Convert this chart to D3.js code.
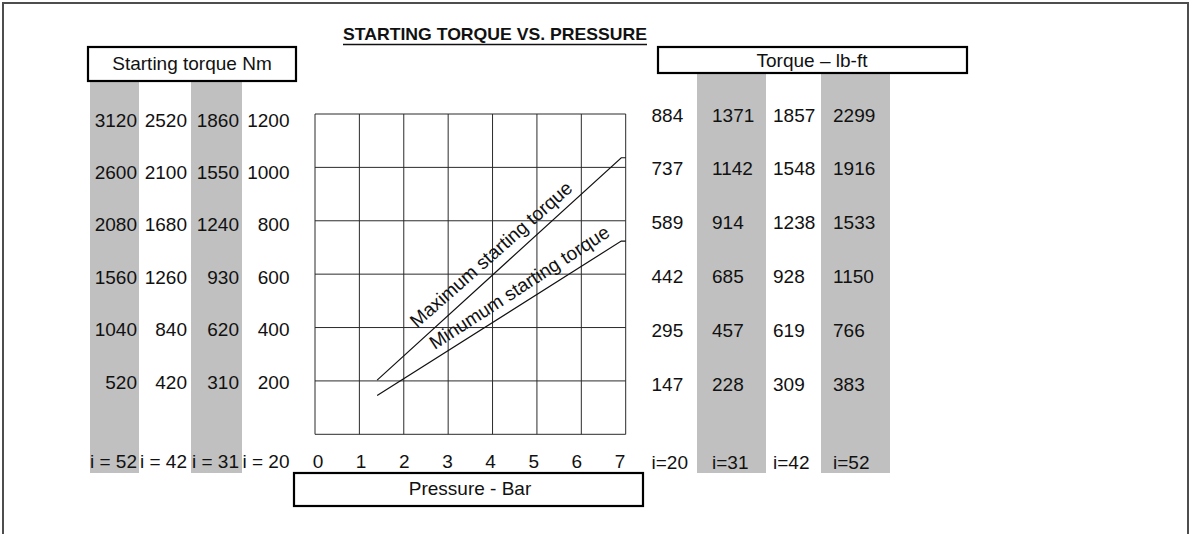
<!DOCTYPE html>
<html>
<head>
<meta charset="utf-8">
<script src="https://cdn.jsdelivr.net/npm/d3@7"></script>
<style>
  html, body { margin: 0; padding: 0; background: #fff; }
  svg { display: block; }
  text { font-family: "Liberation Sans", Arial, sans-serif; fill: #111; }
</style>
</head>
<body>
<svg id="chart" width="1192" height="534"></svg>
<script>
// Pressure axis (bar) and torque gridlines (Nm, i = 20 scale)
const pressureTicks = [0, 1, 2, 3, 4, 5, 6, 7];
const torqueTicks = [0, 200, 400, 600, 800, 1000, 1200];

// Starting torque curves: pressure (bar) vs torque (Nm, i = 20)
const maxPressure = [1.4, 6.9, 7.0];
const maxTorque   = [203, 1036, 1036];
const minPressure = [1.4, 6.9, 7.0];
const minTorque   = [145, 724, 724];

// Left table: starting torque in Nm for each ratio
const nmHeaders = ["i = 52", "i = 42", "i = 31", "i = 20"];
const nmI52 = [3120, 2600, 2080, 1560, 1040, 520];
const nmI42 = [2520, 2100, 1680, 1260, 840, 420];
const nmI31 = [1860, 1550, 1240, 930, 620, 310];
const nmI20 = [1200, 1000, 800, 600, 400, 200];

// Right table: torque in lb-ft for each ratio
const lbHeaders = ["i=20", "i=31", "i=42", "i=52"];
const lbI20 = [884, 737, 589, 442, 295, 147];
const lbI31 = [1371, 1142, 914, 685, 457, 228];
const lbI42 = [1857, 1548, 1238, 928, 619, 309];
const lbI52 = [2299, 1916, 1533, 1150, 766, 383];

const svg = d3.select("#chart");
const FS = 19;

const x = d3.scaleLinear().domain([0, 7]).range([315, 625.7]);
const y = d3.scaleLinear().domain([0, 1200]).range([434.3, 114]);
const xLabel = d3.scaleLinear().domain([0, 7]).range([318, 620]);
const rowIdx = d3.range(nmI20.length);
const leftRow = d3.scalePoint().domain(rowIdx).range([120, 382]);
const rightRow = d3.scalePoint().domain(rowIdx).range([115, 384]);

// Outer frame (open at the bottom)
svg.append("path")
  .attr("d", "M3,534 V3 H1188 V534")
  .attr("fill", "none").attr("stroke", "#4d4d4d").attr("stroke-width", 2);

// Grey column bands
const bands = [
  { x0: 90, x1: 139, y0: 81, y1: 473 },
  { x0: 191, x1: 242, y0: 81, y1: 473 },
  { x0: 697, x1: 766, y0: 73, y1: 473 },
  { x0: 821, x1: 890, y0: 73, y1: 473 }
];
svg.append("g").selectAll("rect").data(bands).join("rect")
  .attr("x", d => d.x0).attr("y", d => d.y0)
  .attr("width", d => d.x1 - d.x0).attr("height", d => d.y1 - d.y0)
  .attr("fill", "#c0c0c0");

// Title
svg.append("text")
  .attr("x", 343).attr("y", 40)
  .attr("font-size", 17).attr("font-weight", "bold")
  .attr("textLength", 304).attr("lengthAdjust", "spacingAndGlyphs")
  .text("STARTING TORQUE VS. PRESSURE");
svg.append("line")
  .attr("x1", 343).attr("x2", 647).attr("y1", 44.5).attr("y2", 44.5)
  .attr("stroke", "#111").attr("stroke-width", 1.6);

// Header boxes
function box(x0, y0, x1, y1, label, cx, baseline) {
  svg.append("rect")
    .attr("x", x0).attr("y", y0).attr("width", x1 - x0).attr("height", y1 - y0)
    .attr("fill", "#fff").attr("stroke", "#000").attr("stroke-width", 2.2);
  svg.append("text")
    .attr("x", cx).attr("y", baseline)
    .attr("text-anchor", "middle").attr("font-size", FS)
    .text(label);
}
box(88, 47, 296, 81, "Starting torque Nm", 192, 69.5);
box(658, 47, 967, 73, "Torque \u2013 lb-ft", 812, 67);
box(294, 473, 643, 506, "Pressure - Bar", 470, 495);

// Grid
const grid = svg.append("g").attr("stroke", "#2b2b2b").attr("stroke-width", 1);
grid.selectAll("line.v").data(pressureTicks).join("line").attr("class", "v")
  .attr("x1", d => x(d)).attr("x2", d => x(d))
  .attr("y1", y(1200)).attr("y2", y(0));
grid.selectAll("line.h").data(torqueTicks).join("line").attr("class", "h")
  .attr("x1", x(0)).attr("x2", x(7))
  .attr("y1", d => y(d)).attr("y2", d => y(d));

// Pressure tick labels
svg.append("g").selectAll("text").data(pressureTicks).join("text")
  .attr("x", d => xLabel(d)).attr("y", 461.7).attr("dy", "0.35em")
  .attr("text-anchor", "middle").attr("font-size", FS)
  .text(d => d);

// Torque curves
const line = d3.line().x(d => x(d[0])).y(d => y(d[1]));
const curves = [
  d3.zip(maxPressure, maxTorque),
  d3.zip(minPressure, minTorque)
];
svg.append("g").selectAll("path").data(curves).join("path")
  .attr("d", line)
  .attr("fill", "none").attr("stroke", "#111").attr("stroke-width", 1.2);

// Curve labels
const curveLabels = [
  { p: 2.3, t: 396, angle: -41.5, text: "Maximum starting torque" },
  { p: 2.7, t: 316, angle: -33, text: "Minumum starting torque" }
];
svg.append("g").selectAll("text").data(curveLabels).join("text")
  .attr("transform", d => `translate(${x(d.p)},${y(d.t)}) rotate(${d.angle})`)
  .attr("font-size", FS)
  .text(d => d.text);

// Left table (right-aligned columns)
const nmCols = [
  { right: 137, values: nmI52 },
  { right: 187, values: nmI42 },
  { right: 239, values: nmI31 },
  { right: 289.5, values: nmI20 }
];
const leftG = svg.append("g").attr("font-size", FS).attr("text-anchor", "end");
nmCols.forEach((col, ci) => {
  leftG.selectAll(null).data(col.values).join("text")
    .attr("x", col.right)
    .attr("y", (d, i) => leftRow(i))
    .attr("dy", "0.35em")
    .text(d => d);
  leftG.append("text")
    .attr("x", col.right).attr("y", 461).attr("dy", "0.35em")
    .text(nmHeaders[ci]);
});

// Right table (left-aligned columns)
const lbCols = [
  { left: 651.5, values: lbI20 },
  { left: 712, values: lbI31 },
  { left: 773, values: lbI42 },
  { left: 833, values: lbI52 }
];
const rightG = svg.append("g").attr("font-size", FS);
lbCols.forEach((col, ci) => {
  rightG.selectAll(null).data(col.values).join("text")
    .attr("x", col.left)
    .attr("y", (d, i) => rightRow(i))
    .attr("dy", "0.35em")
    .text(d => d);
  rightG.append("text")
    .attr("x", col.left).attr("y", 462).attr("dy", "0.35em")
    .text(lbHeaders[ci]);
});
</script>
</body>
</html>
